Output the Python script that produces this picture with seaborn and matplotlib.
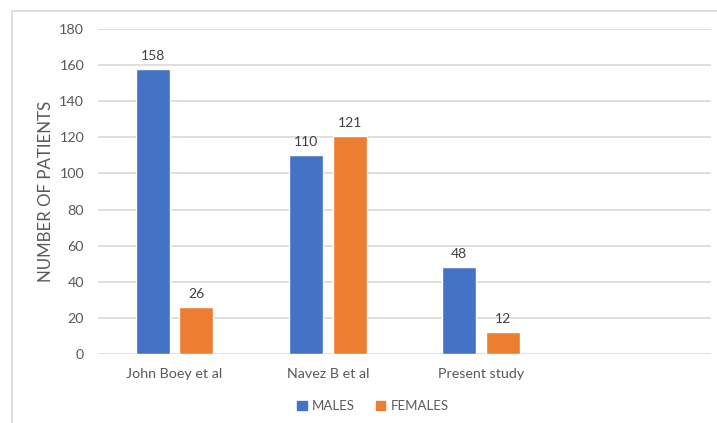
import matplotlib
matplotlib.use("Agg")
import matplotlib.pyplot as plt
import matplotlib.patches as mpatches
import seaborn as sns
import pandas as pd

# Study groups and patient counts by sex
studies = ["John Boey et al", "Navez B et al", "Present study"]
males = [158, 110, 48]
females = [26, 121, 12]
sexes = ["MALES", "FEMALES"]
y_ticks = [0, 20, 40, 60, 80, 100, 120, 140, 160, 180]

df = pd.DataFrame({
    "study": studies * 2,
    "sex": [sexes[0]] * len(studies) + [sexes[1]] * len(studies),
    "count": males + females,
})

sns.set_theme(style="white")
plt.rcParams["font.family"] = ["Lato", "DejaVu Sans"]

text_color = "#595959"
palette = {"MALES": "#4472C4", "FEMALES": "#ED7D31"}

fig = plt.figure(figsize=(7.17, 4.23), dpi=100)
# light frame around the chart area
fig.patches.append(mpatches.Rectangle((12 / 717, -0.1), 1.2, 1 - 11 / 423 + 0.1,
                                      transform=fig.transFigure, fill=False,
                                      edgecolor="#D9D9D9", linewidth=1.2, zorder=0))

ax = fig.add_axes([98 / 717, 1 - 354 / 423, (711 - 98) / 717, (354 - 29) / 423])

order = studies + [""]
sns.barplot(data=df, x="study", y="count", hue="sex", order=order,
            hue_order=sexes, palette=palette, width=0.57, gap=0.22,
            saturation=1, ax=ax, legend=False, zorder=3)

ax.set_ylim(0, 180)
ax.set_xlim(-0.5, 3.5)
ax.set_yticks(y_ticks)
ax.yaxis.grid(True, color="#D9D9D9", linewidth=1.2, zorder=0)
ax.set_axisbelow(True)
for s in ax.spines.values():
    s.set_visible(False)
ax.tick_params(axis="both", length=0, colors=text_color, labelsize=10.3)
ax.tick_params(axis="x", pad=10)
ax.tick_params(axis="y", pad=10)
ax.set_xlabel("")
ax.set_ylabel("NUMBER OF PATIENTS", color=text_color, fontsize=12.2, labelpad=4)

for cont in ax.containers:
    ax.bar_label(cont, fmt="%d", padding=5, color="#404040", fontsize=10)

handles = [mpatches.Patch(color=palette[s], label=s) for s in sexes]
fig.legend(handles=handles, loc="center", bbox_to_anchor=(373 / 717, 1 - 406 / 423),
           ncol=2, frameon=False, fontsize=9.5, handlelength=0.7, handleheight=0.7,
           handletextpad=0.4, columnspacing=1.6, labelcolor=text_color)

fig.savefig("out.png", dpi=100)
